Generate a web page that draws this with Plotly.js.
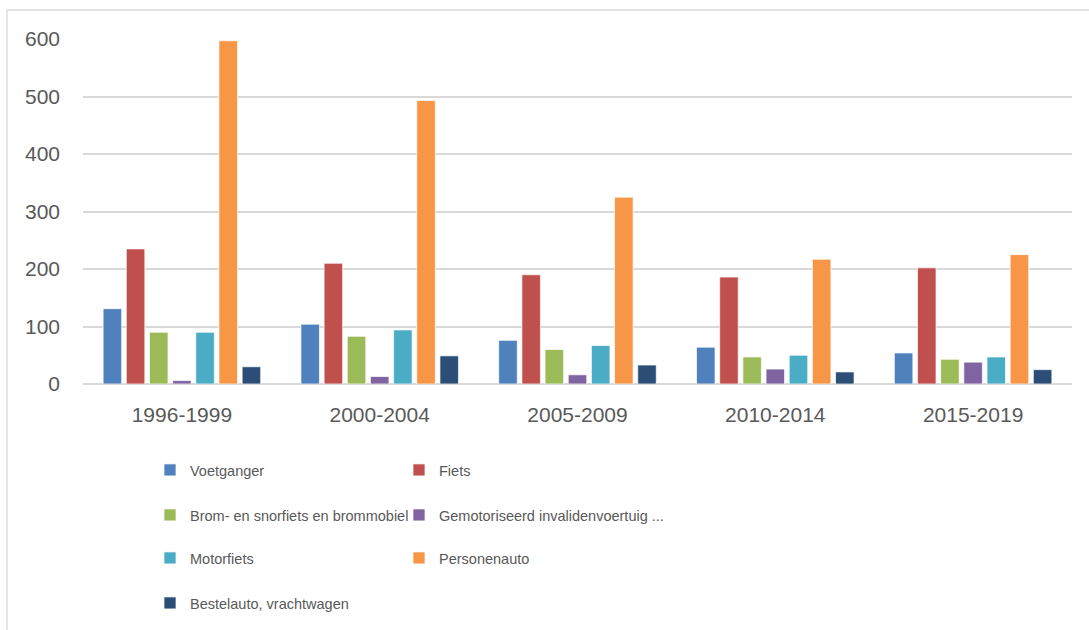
<!DOCTYPE html>
<html>
<head>
<meta charset="utf-8">
<script src="https://cdn.plot.ly/plotly-3.0.1.min.js"></script>
<style>
  html, body { margin: 0; padding: 0; background: #ffffff; overflow: hidden; }
  #chart { width: 1089px; height: 630px; }
</style>
</head>
<body>
<div id="chart"></div>
<script>
// ---- data ----
const categories = ["1996-1999", "2000-2004", "2005-2009", "2010-2014", "2015-2019"];
const seriesNames = [
  "Voetganger",
  "Fiets",
  "Brom- en snorfiets en brommobiel",
  "Gemotoriseerd invalidenvoertuig ...",
  "Motorfiets",
  "Personenauto",
  "Bestelauto, vrachtwagen"
];
const voetganger = [131, 104, 76, 64, 54];
const fiets      = [235, 210, 190, 186, 202];
const brom       = [90, 83, 60, 47, 43];
const gemot      = [6, 13, 16, 26, 38];
const motorfiets = [90, 94, 67, 50, 47];
const personenauto = [597, 493, 325, 217, 225];
const bestelauto = [30, 49, 33, 21, 25];
const yTicks = [0, 100, 200, 300, 400, 500, 600];

const seriesValues = [voetganger, fiets, brom, gemot, motorfiets, personenauto, bestelauto];
const colors = ["#4f81bd", "#c0504d", "#9bbb59", "#8064a2", "#4bacc6", "#f79646", "#2c4d75"];

const W = 1089, H = 630;
const legendIds = seriesNames.map((_, i) => (i === 0 ? "legend" : "legend" + (i + 1)));

const traces = seriesNames.map((name, i) => ({
  type: "bar",
  name: name,
  x: categories,
  y: seriesValues[i],
  legend: legendIds[i],
  marker: { color: colors[i], line: { color: "rgba(255,255,255,0.7)", width: 1 } },
  hoverinfo: "x+y+name"
}));

const legendFont = { family: "Liberation Sans, Arial, sans-serif", size: 14.5, color: "#595959" };
// two-column legend: column left edges and row centres (pixels)
const colX = [150, 399];
const rowY = [470, 515, 558, 603];
function legendAt(i) {
  return {
    orientation: "v",
    xref: "container", yref: "container",
    x: colX[i % 2] / W, xanchor: "left",
    y: 1 - rowY[Math.floor(i / 2)] / H, yanchor: "middle",
    itemwidth: 30,
    font: legendFont,
    bgcolor: "rgba(0,0,0,0)",
    itemclick: false, itemdoubleclick: false
  };
}

const layout = {
  width: W, height: H,
  margin: { l: 83, r: 17, t: 39, b: 246, autoexpand: false },
  paper_bgcolor: "#ffffff",
  plot_bgcolor: "#ffffff",
  barmode: "group",
  bargap: 0.18,
  bargroupgap: 0.2,
  font: { family: "Liberation Sans, Arial, sans-serif", color: "#595959", size: 21 },
  xaxis: {
    type: "category",
    showgrid: false,
    zeroline: false,
    showline: false,
    ticks: "",
    tickangle: 0,
    automargin: false,
    ticklabelstandoff: 16,
    tickfont: { size: 21, color: "#595959" }
  },
  yaxis: {
    range: [0, 600],
    tickvals: yTicks,
    ticktext: yTicks.map(String),
    showgrid: true,
    gridcolor: "#d9d9d9",
    gridwidth: 1.5,
    zeroline: true,
    zerolinecolor: "#d9d9d9",
    zerolinewidth: 1.5,
    showline: false,
    ticks: "",
    automargin: false,
    ticklabelstandoff: 22,
    tickfont: { size: 21, color: "#595959" }
  },
  showlegend: true,
  shapes: [{
    type: "rect",
    xref: "paper", yref: "paper",
    x0: (7 - 83) / 989, x1: (1100 - 83) / 989,
    y0: -(660 - 384) / 345, y1: 1 + (39 - 10) / 345,
    line: { color: "#d9d9d9", width: 1.3 },
    fillcolor: "rgba(0,0,0,0)",
    layer: "below"
  }]
};
legendIds.forEach((id, i) => { layout[id] = legendAt(i); });

Plotly.newPlot("chart", traces, layout, { displayModeBar: false });
</script>
</body>
</html>
